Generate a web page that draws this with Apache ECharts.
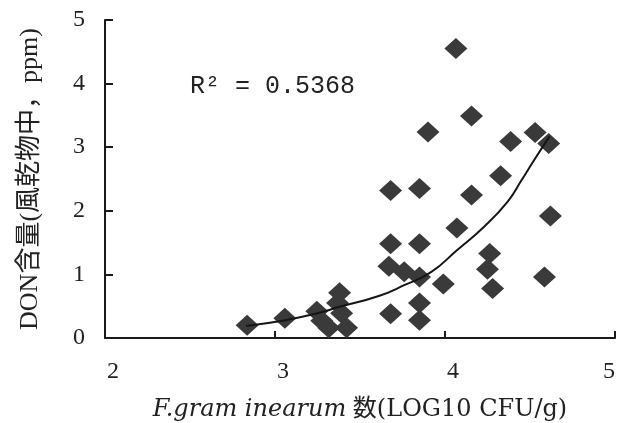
<!DOCTYPE html>
<html><head><meta charset="utf-8">
<script src="https://cdn.jsdelivr.net/npm/echarts@6/dist/echarts.min.js"></script>
<style>html,body{margin:0;padding:0;background:#fff}#c{width:617px;height:423px}</style>
</head><body><div id="c"></div>
<script>
const xValues = [2.836,3.058,3.246,3.275,3.316,3.380,3.368,3.392,3.421,3.68,3.85,3.68,3.85,3.67,3.76,3.85,3.99,4.07,3.68,3.85,3.85,4.064,4.156,3.90,4.386,4.53,4.61,4.327,4.156,4.62,4.263,4.25,4.28,4.585];
const yValues = [0.20,0.31,0.42,0.27,0.16,0.71,0.55,0.39,0.16,2.32,2.35,1.48,1.48,1.13,1.04,0.96,0.85,1.73,0.38,0.55,0.28,4.55,3.49,3.24,3.09,3.23,3.06,2.55,2.25,1.92,1.33,1.08,0.78,0.96];
const trendX = [2.83,3.06,3.25,3.38,3.61,3.76,3.92,4.07,4.23,4.37,4.45,4.52,4.615];
const trendY = [0.19,0.28,0.39,0.49,0.66,0.83,1.04,1.38,1.75,2.15,2.48,2.78,3.17];
const xTicks = [2,3,4,5];
const yTicks = [0,1,2,3,4,5];
const r2Text = 'R² = 0.5368';

const serif = "'Liberation Serif','Noto Sans CJK JP',serif";
const wideSerif = "'DejaVu Serif','Noto Sans CJK JP',serif";
const chart = echarts.init(document.getElementById('c'));
chart.setOption({
  animation:false,
  grid:{left:105,right:2,top:20,bottom:85,containLabel:false,outerBoundsMode:'none'},
  xAxis:{type:'value',min:xTicks[0],max:xTicks[xTicks.length-1],interval:1,
    axisLine:{onZero:false,lineStyle:{color:'#1a1a1a',width:2}},
    axisTick:{inside:true,length:7,lineStyle:{color:'#1a1a1a',width:2}},
    splitLine:{show:false},
    axisLabel:{color:'#222',fontFamily:serif,fontSize:24,margin:22,padding:[0,0,0,16],alignMaxLabel:'right'},
    name:'{i|F.gram inearum}  {n|数(LOG10 CFU/g)}',nameLocation:'middle',nameGap:60,
    nameTextStyle:{rich:{i:{fontFamily:wideSerif,fontStyle:'italic',fontSize:24,color:'#222'},n:{fontFamily:wideSerif,fontSize:24,color:'#222'}}}
  },
  yAxis:{type:'value',min:yTicks[0],max:yTicks[yTicks.length-1],interval:1,
    axisLine:{show:true,lineStyle:{color:'#1a1a1a',width:2}},
    axisTick:{show:true,inside:true,length:8,lineStyle:{color:'#1a1a1a',width:2}},
    splitLine:{show:false},
    axisLabel:{color:'#222',fontFamily:serif,fontSize:24,margin:20},
    name:'DON含量(風乾物中，ppm)',nameLocation:'middle',nameGap:62,
    nameTextStyle:{fontFamily:serif,fontSize:26,color:'#222'}
  },
  series:[
    {type:'scatter',symbol:'diamond',symbolSize:[23,21],itemStyle:{color:'#3a3a3a',opacity:1},
     data:xValues.map((x,i)=>[x,yValues[i]]),z:2},
    {type:'line',showSymbol:false,smooth:0.5,lineStyle:{color:'#151515',width:2},
     data:trendX.map((x,i)=>[x,trendY[i]]),z:3}
  ],
  graphic:[{type:'text',left:190,top:74,style:{text:r2Text,font:"25px 'Liberation Mono',monospace",fill:'#222'}}]
});
</script></body></html>
